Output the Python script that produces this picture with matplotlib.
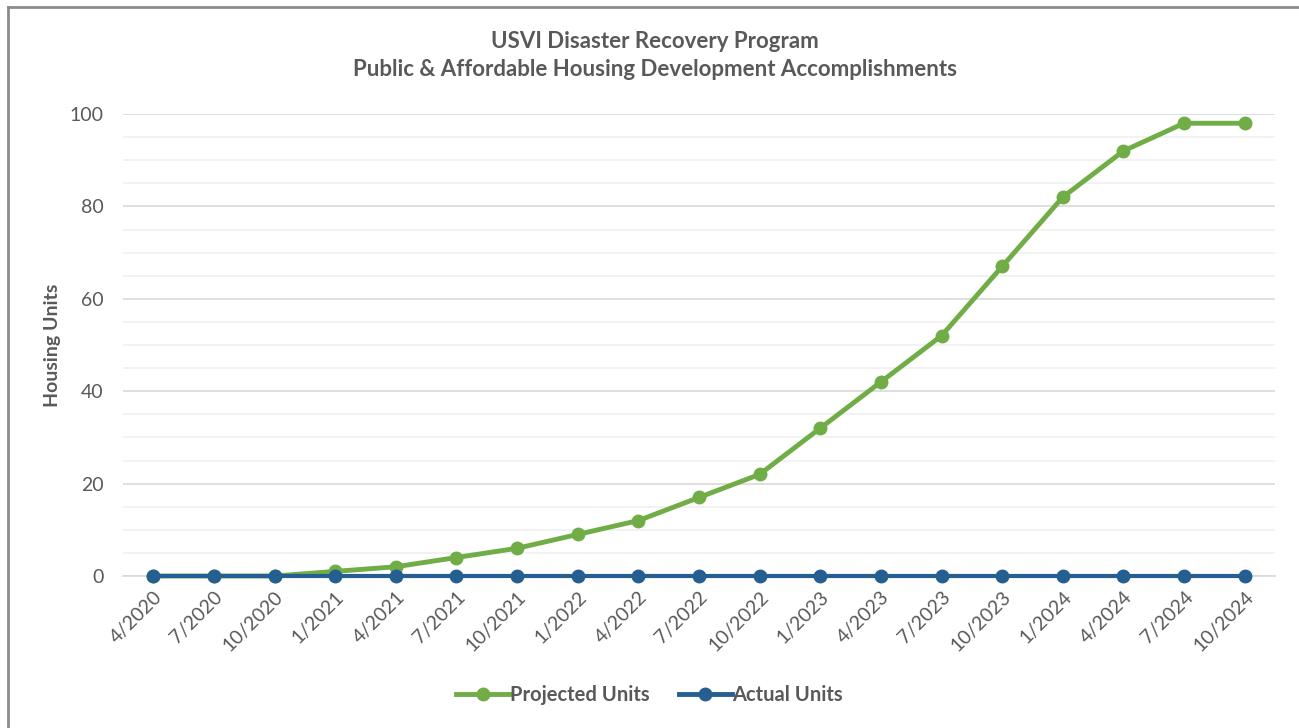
import matplotlib.pyplot as plt
from matplotlib.lines import Line2D
import numpy as np

plt.rcParams['font.family'] = ['Lato', 'DejaVu Sans']

quarters = ['4/2020', '7/2020', '10/2020', '1/2021', '4/2021', '7/2021', '10/2021',
            '1/2022', '4/2022', '7/2022', '10/2022', '1/2023', '4/2023', '7/2023',
            '10/2023', '1/2024', '4/2024', '7/2024', '10/2024']
projected_units = [0, 0, 0, 1, 2, 4, 6, 9, 12, 17, 22, 32, 42, 52, 67, 82, 92, 98, 98]
actual_units = [0] * len(quarters)

green = '#70AD47'
blue = '#255E91'
text_gray = '#595959'

fig = plt.figure(figsize=(12.99, 7.28), dpi=100)
ax = fig.add_axes([123 / 1299, 1 - 576 / 728, 1152 / 1299, 462 / 728])

x = np.arange(len(quarters))
ax.plot(x, projected_units, color=green, lw=3.5, marker='o', ms=9, clip_on=False, zorder=3)
ax.plot(x, actual_units, color=blue, lw=3, marker='o', ms=9, clip_on=False, zorder=4)

ax.set_xlim(-0.5, len(quarters) - 0.5)
ax.set_ylim(0, 100)
ax.set_yticks(np.arange(0, 101, 20))
ax.set_yticks(np.arange(0, 101, 5), minor=True)
ax.grid(axis='y', which='major', color='#D9D9D9', lw=1.2, zorder=0)
ax.grid(axis='y', which='minor', color='#F0F0F0', lw=1.2, zorder=0)
ax.set_axisbelow(True)

ax.set_xticks(x)
ax.set_xticklabels(quarters, rotation=45, ha='right', rotation_mode='anchor')
ax.tick_params(axis='both', which='both', length=0, labelsize=14, colors=text_gray)
ax.tick_params(axis='x', pad=9)
ax.tick_params(axis='y', pad=14)

for side in ['top', 'right', 'left']:
    ax.spines[side].set_visible(False)
ax.spines['bottom'].set_color('#D9D9D9')
ax.spines['bottom'].set_linewidth(1.2)

ax.set_ylabel('Housing Units', fontsize=14, fontweight='bold', color=text_gray, labelpad=14)
ax.yaxis.set_label_coords(-62 / 1152, 0.5)

fig.text(655 / 1299, 1 - 42 / 728, 'USVI Disaster Recovery Program', ha='center', va='center',
         fontsize=16, fontweight='bold', color=text_gray)
fig.text(655 / 1299, 1 - 70 / 728, 'Public & Affordable Housing Development Accomplishments',
         ha='center', va='center', fontsize=16, fontweight='bold', color=text_gray)

handles = [Line2D([], [], color=green, lw=3.5, marker='o', ms=9),
           Line2D([], [], color=blue, lw=3.5, marker='o', ms=9)]
fig.legend(handles, ['Projected Units', 'Actual Units'], loc='center', bbox_to_anchor=(0.5, 1 - 695 / 728),
           ncol=2, frameon=False, handlelength=2.65, handletextpad=0.0, columnspacing=1.45,
           prop={'size': 14.5, 'weight': 'bold'}, labelcolor=text_gray)

# outer chart border
fig.add_artist(Line2D([7.5 / 1299, 7.5 / 1299], [0, 1 - 6.5 / 728], color='#8C8C8C', lw=2))
fig.add_artist(Line2D([7.5 / 1299, 1], [1 - 6.5 / 728, 1 - 6.5 / 728], color='#8C8C8C', lw=2))

fig.savefig('out.png', dpi=100)
